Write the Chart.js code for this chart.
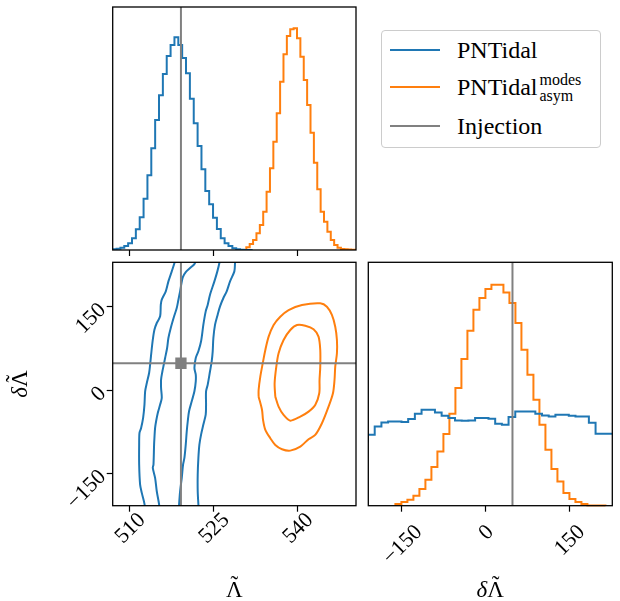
<!DOCTYPE html>
<html>
<head>
<meta charset="utf-8">
<script src="https://cdn.jsdelivr.net/npm/chart.js@4.4.1/dist/chart.umd.min.js"></script>
<style>
  html, body { margin: 0; padding: 0; background: #fff; }
  #wrap { position: relative; width: 620px; height: 601px; overflow: hidden; font-family: 'Liberation Serif', serif; }
  canvas { position: absolute; left: 0; top: 0; }
  .leg { position: absolute; white-space: nowrap; font-size: 24px; line-height: 24px; color: #000; }
  .hnd { position: absolute; left: 390px; width: 50px; height: 2px; }
  .ss { position: relative; display: inline-block; width: 48px; height: 0; }
  .ss span { position: absolute; left: 2px; font-size: 16px; line-height: 16px; }
</style>
</head>
<body>
<div id="wrap">
  <canvas id="cLam" width="620" height="601"></canvas>
  <canvas id="c2d" width="620" height="601"></canvas>
  <canvas id="cDel" width="620" height="601"></canvas>
  <div style="position:absolute;left:381px;top:30px;width:218px;height:116px;border:1px solid #cccccc;border-radius:4px;background:#fff;"></div>
  <div class="hnd" style="top:49px;background:#1f77b4;"></div>
  <div class="leg" style="left:457px;top:38px;">PNTidal</div>
  <div class="hnd" style="top:86px;background:#ff7f0e;"></div>
  <div class="leg" style="left:457px;top:75px;">PNTidal<span class="ss"><span style="bottom:7px;">modes</span><span style="bottom:-9px;">asym</span></span></div>
  <div class="hnd" style="top:125px;background:#808080;"></div>
  <div class="leg" style="left:457px;top:114px;">Injection</div>
</div>
<script>
const FONT = "'Liberation Serif', serif";
const TICK_SIZE = 22;
const TITLE_SIZE = 23;
const BLUE = '#1f77b4', ORANGE = '#ff7f0e', GREY = '#808080';

// injected values
const injLambda = 519.2;
const injDelta = 48.5;

// axis ranges and ticks
const lamRange = [507.0, 550.5];
const delRangeY = [-207.5, 230];
const delRangeX = [-210, 227.5];
const lamTicks = [510, 525, 540];
const delTicks = [-150, 0, 150];

// Λ̃ marginal histograms (bin start, bin width, heights)
const lamBlueStart = 507.0, lamBlueWidth = 0.69;
const lamBlue = [0.3, 0.7, 1.3, 2.3, 4, 6.7, 11.7, 20.7, 32.7, 51.3, 74.7, 101.7, 130, 154.7, 176, 194, 205, 212.7,
  205, 192, 176.7, 151.3, 126.7, 104, 80.7, 59, 45.7, 32.3, 21, 11.7, 6.7, 4, 1.7, 0.7, 0.3, 0.1];
const lamOrangeStart = 530.89, lamOrangeWidth = 0.604;
const lamOrange = [1.3, 2.7, 6, 10, 16.7, 25, 38.3, 58.3, 81.7, 108.3, 136.7, 168.3, 195.7, 214, 220.7, 221.7,
  211.7, 193.3, 170, 145, 117.3, 87.3, 60.7, 38.3, 28.3, 18.3, 10, 5, 2.3, 1, 0.7, 0.5, 0.3];

// δΛ̃ marginal histograms
const delBlueStart = -210.5, delBlueWidth = 12.0;
const delBlue = [63.3, 71, 79.3, 83.3, 84.3, 84.3, 83.7, 86.7, 92, 96, 96, 93.3, 90, 87.7, 85.3, 85, 85.3, 87.7,
  87.7, 87, 82, 81, 88.7, 94.3, 94.3, 94.3, 92, 90.3, 89.3, 91, 91, 90, 89.3, 89.3, 83, 72, 72];
const delOrangeStart = -161.4, delOrangeWidth = 10.76;
const delOrange = [1, 1.7, 3.7, 6, 10, 16.7, 26, 38.7, 54.3, 71.7, 92, 117.7, 146.7, 175, 196, 207.7, 216.7, 221,
  221, 213.3, 202.7, 182.7, 156, 131, 106, 81, 56, 36.7, 24.3, 12.7, 6.7, 3.7, 1.7, 0.3, 0.3];

// 2D contours [Λ̃, δΛ̃]
const blueOuterLeft = [[518.3, 240], [518.04, 228.7], [517.56, 213.7], [516.96, 195.7], [516.49, 177.8], [515.77, 162.8],
  [515.6, 153.8], [515.48, 132.9], [514.88, 120.9], [514.46, 108.9], [514.17, 90.9], [513.87, 64], [513.69, 46],
  [513.51, 31.1], [513.1, 13.1], [512.8, -1.9], [512.68, -25.8], [512.44, -49.8], [512.08, -67.7], [511.79, -76.7],
  [511.73, -97.7], [511.73, -133.6], [511.9, -169.5], [512.2, -184.5], [512.68, -204.2], [512.85, -220]];
const blueInnerLeft = [[522.0, 235], [521.61, 226.9], [520.83, 219.7], [520.06, 212.5], [519.52, 202.9], [519.05, 177.8],
  [518.75, 162.8], [518.45, 147.8], [517.98, 132.9], [517.38, 111.9], [516.96, 93.9], [516.73, 76], [516.37, 58],
  [516.13, 46], [515.89, 34.1], [515.65, 19.1], [515.65, 4.1], [515.77, -13.8], [515.48, -25.8], [515.06, -40.8],
  [514.76, -55.7], [514.58, -67.7], [514.46, -85.7], [514.4, -97.7], [514.29, -133.6], [514.17, -139.6],
  [514.58, -157.5], [514.88, -181.5], [515.3, -205.4], [515.45, -220]];
const blueInnerRight = [[526.2, 240], [526.07, 228.7], [525.71, 213.7], [525.18, 195.7], [524.4, 171.8], [523.99, 153.8],
  [523.63, 141.8], [523.21, 117.9], [522.8, 88], [522.32, 70], [521.85, 58], [521.61, 40.1], [521.85, 28.1],
  [521.85, 16.1], [521.61, -1.9], [521.13, -19.8], [520.65, -37.8], [520.42, -55.7], [520.24, -73.7], [520.06, -97.7],
  [519.82, -121.6], [519.58, -133.6], [519.35, -157.5], [519.05, -181.5], [518.87, -205.4], [518.8, -220]];
const blueOuterRight = [[528.95, 240], [528.87, 228.7], [528.75, 213.7], [527.98, 195.7], [527.38, 177.8], [526.79, 165.8],
  [526.19, 150.8], [525.77, 135.9], [525.3, 117.9], [525.0, 93.9], [524.88, 70], [524.7, 52], [524.4, 34.1],
  [523.99, 10.1], [523.69, -1.9], [523.69, -25.8], [523.63, -43.8], [523.21, -61.7], [522.8, -79.7], [522.5, -97.7],
  [522.32, -121.6], [522.2, -151.6], [522.2, -181.5], [522.32, -205.4], [522.4, -220]];
const orangeOuter = [[533.09, -11.5], [533.09, 0.5], [533.39, 24.4], [533.88, 51.4], [534.29, 72.4], [534.88, 96.3],
  [535.77, 117.3], [536.96, 132.2], [538.45, 144.2], [540.84, 153.2], [544.11, 156.3], [545.3, 150.2], [546.19, 135.3],
  [546.79, 114.2], [547.09, 90.4], [547.09, 66.5], [546.79, 42.4], [546.66, 18.5], [546.38, -5.4], [545.59, -29.5],
  [544.41, -59.3], [543.21, -80.3], [542.02, -88], [540.54, -101.3], [538.75, -108.5], [537.27, -106], [536.07, -98.3],
  [535.18, -86.2], [534.29, -71.3], [533.88, -53.3], [533.7, -35.4]];
const orangeInner = [[536.07, -11.5], [535.95, 12.6], [536.25, 42.4], [536.66, 66.5], [537.55, 90.4], [538.75, 108.3],
  [539.95, 117.3], [541.43, 116], [542.91, 109.6], [543.8, 96.3], [544.11, 72.4], [544.11, 42.4], [543.98, 18.5],
  [543.93, -5.4], [543.21, -26.4], [542.02, -38.4], [540.54, -47.4], [538.75, -54.6], [537.55, -44.4], [536.66, -29.5]];

function tickText(v) {
  return v < 0 ? '\u2212' + Math.abs(v) : String(v);
}

function histPoints(start, width, counts) {
  const pts = [{x: start, y: 0}];
  counts.forEach((c, i) => pts.push({x: start + i * width, y: c}));
  const end = start + counts.length * width;
  pts.push({x: end, y: counts[counts.length - 1]});
  pts.push({x: end, y: 0});
  return pts;
}

function curve(arr, close) {
  const list = close ? arr.concat([arr[0]]) : arr;
  return list.map(([x, y]) => ({x: x, y: y}));
}

function line(data, color, extra) {
  return Object.assign({
    data: data, showLine: true, borderColor: color, borderWidth: 2,
    pointRadius: 0, fill: false, clip: 0
  }, extra || {});
}

function fixedTicks(values) {
  return s => { s.ticks = values.map(v => ({value: v})); };
}

function xAxis(range, ticks) {
  return {
    type: 'linear', min: range[0], max: range[1],
    afterBuildTicks: fixedTicks(ticks),
    afterFit: s => { s.height = 10; },
    grid: {drawOnChartArea: false, drawTicks: true, tickLength: 6, tickColor: '#000', tickWidth: 1.2},
    border: {display: false},
    ticks: {display: false}
  };
}

const frame = {
  id: 'frame',
  afterDraw(chart) {
    const {ctx, chartArea: a} = chart;
    ctx.save();
    ctx.strokeStyle = '#000';
    ctx.lineWidth = 1.3;
    ctx.strokeRect(a.left, a.top, a.right - a.left, a.bottom - a.top);
    ctx.restore();
  }
};

// rotated x tick labels, centred on the tick like matplotlib
const xTickLabels = {
  id: 'xTickLabels',
  afterDraw(chart, args, o) {
    if (!o.values) return;
    const {ctx, chartArea} = chart;
    const sc = chart.scales.x;
    const h = TICK_SIZE * 0.66;
    ctx.save();
    ctx.font = TICK_SIZE + 'px ' + FONT;
    ctx.fillStyle = '#000';
    ctx.textAlign = 'center';
    ctx.textBaseline = 'alphabetic';
    o.values.forEach(v => {
      const s = tickText(v);
      const w = ctx.measureText(s).width;
      const half = (w + h) / 2 * Math.SQRT1_2;
      ctx.save();
      ctx.translate(sc.getPixelForValue(v), chartArea.bottom + o.gap + half);
      ctx.rotate(-Math.PI / 4);
      ctx.fillText(s, 0, h / 2);
      ctx.restore();
    });
    ctx.restore();
  }
};

function drawMath(ctx, parts, cx, cy, rot) {
  ctx.save();
  ctx.translate(cx, cy);
  ctx.rotate(rot);
  ctx.fillStyle = '#000';
  ctx.textBaseline = 'alphabetic';
  const fonts = parts.map(p => (p.italic ? 'italic ' : '') + TITLE_SIZE + 'px ' + FONT);
  const widths = parts.map((p, i) => { ctx.font = fonts[i]; return ctx.measureText(p.text).width; });
  let x = -widths.reduce((s, w) => s + w, 0) / 2;
  parts.forEach((p, i) => {
    ctx.font = fonts[i];
    ctx.textAlign = 'left';
    ctx.fillText(p.text, x, 0);
    if (p.tilde) {
      ctx.textAlign = 'center';
      ctx.fillText('\u02DC', x + widths[i] / 2, -TITLE_SIZE * 0.2);
    }
    x += widths[i];
  });
  ctx.restore();
}

const axisTitles = {
  id: 'axisTitles',
  afterDraw(chart, args, o) {
    const {ctx, chartArea: a} = chart;
    if (o.x) drawMath(ctx, o.x, (a.left + a.right) / 2, o.xBaseline, 0);
    if (o.y) drawMath(ctx, o.y, o.yBaseline, (a.top + a.bottom) / 2, -Math.PI / 2);
  }
};

const lamTitle = [{text: '\u039B', tilde: true}];
const delTitle = [{text: '\u03B4', italic: true}, {text: '\u039B', tilde: true}];

Chart.defaults.font.family = FONT;
Chart.defaults.color = '#000';

const common = {
  responsive: false,
  animation: false,
  events: [],
  plugins: {legend: {display: false}, tooltip: {enabled: false}},
  elements: {point: {radius: 0}}
};

// top-left: Λ̃ marginal
new Chart(document.getElementById('cLam'), {
  type: 'scatter',
  data: {datasets: [
    line([{x: injLambda, y: 0}, {x: injLambda, y: 243}], GREY),
    line(histPoints(lamBlueStart, lamBlueWidth, lamBlue), BLUE, {stepped: 'after'}),
    line(histPoints(lamOrangeStart, lamOrangeWidth, lamOrange), ORANGE, {stepped: 'after'})
  ]},
  options: Object.assign({}, common, {
    layout: {padding: {left: 112.7, right: 264, top: 7, bottom: 341}},
    scales: {
      x: xAxis(lamRange, lamTicks),
      y: {type: 'linear', display: false, min: 0, max: 243}
    }
  }),
  plugins: [frame]
});

// bottom-left: Λ̃ vs δΛ̃
new Chart(document.getElementById('c2d'), {
  type: 'scatter',
  data: {datasets: [
    {data: [{x: injLambda, y: injDelta}], pointStyle: 'rect', pointRadius: 8, backgroundColor: GREY,
     borderWidth: 0, showLine: false},
    line([{x: injLambda, y: -300}, {x: injLambda, y: 300}], GREY),
    line([{x: 500, y: injDelta}, {x: 560, y: injDelta}], GREY),
    line(curve(blueOuterLeft), BLUE, {tension: 0.3}),
    line(curve(blueInnerLeft), BLUE, {tension: 0.3}),
    line(curve(blueInnerRight), BLUE, {tension: 0.3}),
    line(curve(blueOuterRight), BLUE, {tension: 0.3}),
    line(curve(orangeOuter, true), ORANGE, {tension: 0.3}),
    line(curve(orangeInner, true), ORANGE, {tension: 0.3})
  ]},
  options: Object.assign({}, common, {
    layout: {padding: {left: 52.7, right: 264, top: 262.3, bottom: 85.3}},
    scales: {
      x: xAxis(lamRange, lamTicks),
      y: {
        type: 'linear', min: delRangeY[0], max: delRangeY[1],
        afterBuildTicks: fixedTicks(delTicks),
        afterFit: s => { s.width = 60; },
        grid: {drawOnChartArea: false, drawTicks: true, tickLength: 6, tickColor: '#000', tickWidth: 1.2},
        border: {display: false},
        ticks: {minRotation: 45, maxRotation: 45, padding: 4, color: '#000',
                font: {family: FONT, size: TICK_SIZE}, callback: v => tickText(v)}
      }
    },
    plugins: Object.assign({}, common.plugins, {
      xTickLabels: {values: lamTicks, gap: 5},
      axisTitles: {x: lamTitle, xBaseline: 597, y: delTitle, yBaseline: 27}
    })
  }),
  plugins: [frame, xTickLabels, axisTitles]
});

// bottom-right: δΛ̃ marginal
new Chart(document.getElementById('cDel'), {
  type: 'scatter',
  data: {datasets: [
    line([{x: injDelta, y: 0}, {x: injDelta, y: 243.4}], GREY),
    line(histPoints(delBlueStart, delBlueWidth, delBlue), BLUE, {stepped: 'after'}),
    line(histPoints(delOrangeStart, delOrangeWidth, delOrange), ORANGE, {stepped: 'after', clip: 1})
  ]},
  options: Object.assign({}, common, {
    layout: {padding: {left: 368.3, right: 7.7, top: 262.3, bottom: 85.3}},
    scales: {
      x: xAxis(delRangeX, delTicks),
      y: {type: 'linear', display: false, min: 0, max: 243.4}
    },
    plugins: Object.assign({}, common.plugins, {
      xTickLabels: {values: delTicks, gap: 17},
      axisTitles: {x: delTitle, xBaseline: 597}
    })
  }),
  plugins: [frame, xTickLabels, axisTitles]
});
</script>
</body>
</html>
